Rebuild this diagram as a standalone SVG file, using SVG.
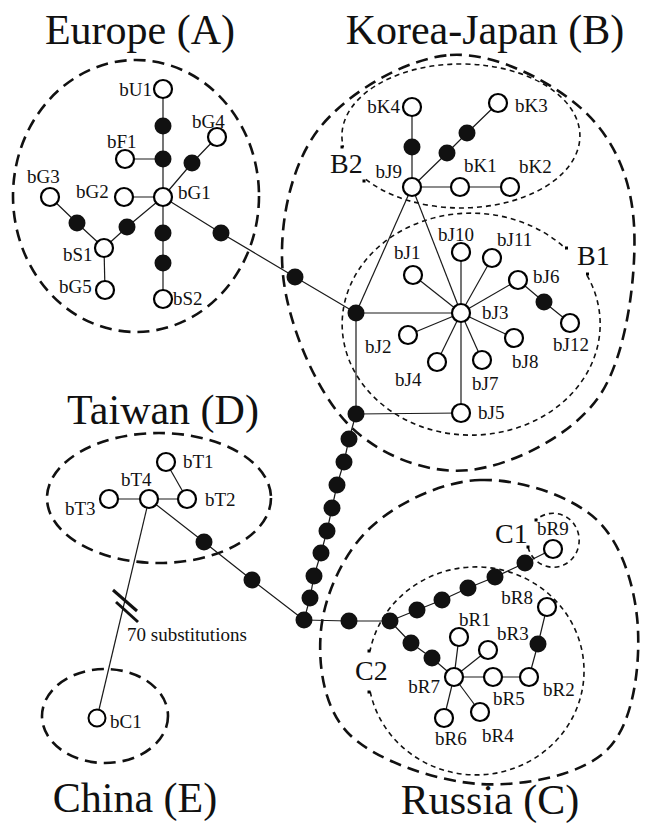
<svg xmlns="http://www.w3.org/2000/svg" width="646" height="825" viewBox="0 0 646 825">
<style>
.e{stroke:#1a1a1a;stroke-width:1.2;fill:none}
.h{fill:#fff;stroke:#000;stroke-width:2.2}
.m{fill:#111;stroke:none}
.lab{font-family:"Liberation Serif","Times New Roman",serif;font-size:19px;fill:#111}
.ttl{font-family:"Liberation Serif","Times New Roman",serif;font-size:42px;fill:#111}
.sl{font-family:"Liberation Serif","Times New Roman",serif;font-size:28px;fill:#111}
.reg{fill:none;stroke:#111;stroke-width:2.6;stroke-dasharray:12 7}
.sub{fill:none;stroke:#111;stroke-width:1.6;stroke-dasharray:5 4}
.bar{stroke:#111;stroke-width:3}
</style>
<rect width="646" height="825" fill="#fff"/>

<g id="regions">
  <g id="region-A">
    <ellipse class="reg" cx="136" cy="196" rx="123" ry="136"/>
    <text class="ttl" x="140" y="44" text-anchor="middle">Europe (A)</text>
  </g>
  <g id="region-B">
    <path class="reg" d="M450 55 C494.2 51.7 552.3 81.7 583 110 C613.7 138.3 631.2 177.5 634 225 C636.8 272.5 627.3 354.2 600 395 C572.7 435.8 512.2 465.3 470 470 C427.8 474.7 378.2 455.5 347 423 C315.8 390.5 287.8 323.8 283 275 C278.2 226.2 290.2 166.7 318 130 C345.8 93.3 405.8 58.3 450 55 Z"/>
    <text class="ttl" x="485" y="44" text-anchor="middle">Korea-Japan (B)</text>
  </g>
  <g id="region-B2">
    <path class="sub" d="M365.9 179.3 A119 72 0 1 0 343.4 147.3"/>
    <rect x="340.5" y="145.5" width="3" height="3"/>
    <rect x="362.5" y="179.5" width="3" height="3"/>
    <text class="sl" x="330" y="173">B2</text>
  </g>
  <g id="region-B1">
    <path class="sub" d="M587 275.3 A129 111 0 1 1 566 248.9"/>
    <rect x="565" y="246.5" width="3" height="3"/>
    <rect x="586" y="272.5" width="3" height="3"/>
    <text class="sl" x="577" y="265">B1</text>
  </g>
  <g id="region-C">
    <path class="reg" d="M480 480 C517.8 478.7 570.7 495 597 520 C623.3 545 636.3 591.7 638 630 C639.7 668.3 633.3 724.3 607 750 C580.7 775.7 522.8 786.5 480 784 C437.2 781.5 376.5 760.7 350 735 C323.5 709.3 317.7 664.5 321 630 C324.3 595.5 343.5 553 370 528 C396.5 503 442.2 481.3 480 480 Z"/>
    <text class="ttl" x="490" y="814" text-anchor="middle">Russia (C)</text>
  </g>
  <g id="region-C1">
    <path class="sub" d="M528 547 A26 27 0 1 0 536 520"/>
    <rect x="526.5" y="545.5" width="3" height="3"/>
    <rect x="534.5" y="518.5" width="3" height="3"/>
    <text class="sl" x="495" y="543">C1</text>
  </g>
  <g id="region-C2">
    <path class="sub" d="M370.2 691.7 A108 104 0 1 0 370 651.1"/>
    <rect x="367.5" y="649.5" width="3" height="3"/>
    <rect x="367.5" y="690.5" width="3" height="3"/>
    <text class="sl" x="355" y="680">C2</text>
  </g>
  <g id="region-D">
    <ellipse class="reg" cx="159" cy="498" rx="112" ry="65"/>
    <text class="ttl" x="163" y="424" text-anchor="middle">Taiwan (D)</text>
  </g>
  <g id="region-E">
    <ellipse class="reg" cx="105" cy="716" rx="63" ry="47"/>
    <text class="ttl" x="135" y="812" text-anchor="middle">China (E)</text>
  </g>
</g>

<g id="connectors">
  <polyline class="e" points="163,89 163,126 163,159 163,197 163,233 163,263 163,299"/>
  <line class="e" x1="125" y1="159" x2="163" y2="159"/>
  <line class="e" x1="124" y1="197" x2="163" y2="197"/>
  <polyline class="e" points="163,197 192,163 217,137"/>
  <polyline class="e" points="50,197 77,223 104,248"/>
  <polyline class="e" points="104,248 127,227 163,197"/>
  <line class="e" x1="104" y1="248" x2="105" y2="290"/>
  <polyline class="e" points="163,197 221,233 295,277 356,313"/>

  <polyline class="e" points="412,107 412,147 412,187"/>
  <polyline class="e" points="412,187 447,153 467,133 498,103"/>
  <polyline class="e" points="412,187 460,187 510,187"/>
  <line class="e" x1="412" y1="187" x2="356" y2="313"/>
  <line class="e" x1="412" y1="187" x2="461" y2="313"/>
  <line class="e" x1="356" y1="313" x2="461" y2="313"/>
  <line class="e" x1="356" y1="313" x2="356" y2="414"/>
  <line class="e" x1="356" y1="414" x2="461" y2="413"/>
  <line class="e" x1="461" y1="313" x2="461" y2="413"/>
  <line class="e" x1="461" y1="313" x2="461" y2="252"/>
  <line class="e" x1="461" y1="313" x2="492" y2="258"/>
  <line class="e" x1="461" y1="313" x2="413" y2="275"/>
  <line class="e" x1="461" y1="313" x2="518" y2="280"/>
  <line class="e" x1="461" y1="313" x2="408" y2="335"/>
  <line class="e" x1="461" y1="313" x2="437" y2="362"/>
  <line class="e" x1="461" y1="313" x2="482" y2="360"/>
  <line class="e" x1="461" y1="313" x2="514" y2="338"/>
  <polyline class="e" points="518,280 544,302 570,323"/>

  <polyline class="e" points="356,414 349,439 344,462 337,485 332,508 327,531 321,553 314,576 310,598 304,620"/>

  <polyline class="e" points="109,499 149,499 187,499"/>
  <line class="e" x1="166" y1="462" x2="187" y2="499"/>
  <polyline class="e" points="149,499 204,542 252,580 304,620"/>
  <line class="e" x1="149" y1="499" x2="97" y2="718"/>
  <line class="bar" x1="113" y1="590" x2="137" y2="611"/>
  <line class="bar" x1="116" y1="602" x2="138" y2="622"/>

  <polyline class="e" points="304,620 349,621 390,621"/>
  <polyline class="e" points="390,621 417,610 442,600 468,588 495,577 525,563 553,549"/>
  <polyline class="e" points="390,621 411,643 432,658 454,677"/>
  <line class="e" x1="454" y1="677" x2="459" y2="637"/>
  <line class="e" x1="454" y1="677" x2="488" y2="650"/>
  <line class="e" x1="454" y1="677" x2="480" y2="712"/>
  <line class="e" x1="454" y1="677" x2="444" y2="718"/>
  <polyline class="e" points="454,677 493,677 529,677"/>
  <polyline class="e" points="529,677 538,644 547,607"/>
</g>

<g id="nodes">
  <g id="bU1"><circle class="h" cx="163" cy="89" r="9"/><text class="lab" x="152" y="96" text-anchor="end">bU1</text></g>
  <g id="mA1"><circle class="m" cx="163" cy="126" r="8.5"/></g>
  <g id="mA2"><circle class="m" cx="163" cy="159" r="8.5"/></g>
  <g id="bF1"><circle class="h" cx="125" cy="159" r="9"/><text class="lab" x="107" y="148">bF1</text></g>
  <g id="bG1"><circle class="h" cx="163" cy="197" r="9"/><text class="lab" x="178" y="199">bG1</text></g>
  <g id="bG2"><circle class="h" cx="124" cy="197" r="9"/><text class="lab" x="76" y="198">bG2</text></g>
  <g id="mA3"><circle class="m" cx="192" cy="163" r="8.5"/></g>
  <g id="bG4"><circle class="h" cx="217" cy="137" r="9"/><text class="lab" x="192" y="128">bG4</text></g>
  <g id="bG3"><circle class="h" cx="50" cy="197" r="9"/><text class="lab" x="27" y="183">bG3</text></g>
  <g id="mA4"><circle class="m" cx="77" cy="223" r="8.5"/></g>
  <g id="mA5"><circle class="m" cx="127" cy="227" r="8.5"/></g>
  <g id="bS1"><circle class="h" cx="104" cy="248" r="9"/><text class="lab" x="63" y="261">bS1</text></g>
  <g id="bG5"><circle class="h" cx="105" cy="290" r="9"/><text class="lab" x="59" y="293">bG5</text></g>
  <g id="mA6"><circle class="m" cx="163" cy="233" r="8.5"/></g>
  <g id="mA7"><circle class="m" cx="163" cy="263" r="8.5"/></g>
  <g id="bS2"><circle class="h" cx="163" cy="299" r="9"/><text class="lab" x="173" y="305">bS2</text></g>
  <g id="mAB1"><circle class="m" cx="221" cy="233" r="8.5"/></g>
  <g id="mAB2"><circle class="m" cx="295" cy="277" r="8.5"/></g>

  <g id="bK4"><circle class="h" cx="412" cy="107" r="9"/><text class="lab" x="400" y="113" text-anchor="end">bK4</text></g>
  <g id="mB1"><circle class="m" cx="412" cy="147" r="8.5"/></g>
  <g id="bJ9"><circle class="h" cx="412" cy="187" r="9"/><text class="lab" x="402" y="178" text-anchor="end">bJ9</text></g>
  <g id="mB2"><circle class="m" cx="447" cy="153" r="8.5"/></g>
  <g id="mB3"><circle class="m" cx="467" cy="133" r="8.5"/></g>
  <g id="bK3"><circle class="h" cx="498" cy="103" r="9"/><text class="lab" x="515" y="112">bK3</text></g>
  <g id="bK1"><circle class="h" cx="460" cy="187" r="9"/><text class="lab" x="464" y="172">bK1</text></g>
  <g id="bK2"><circle class="h" cx="510" cy="187" r="9"/><text class="lab" x="519" y="173">bK2</text></g>
  <g id="mB4"><circle class="m" cx="356" cy="313" r="8.5"/></g>
  <g id="mB5"><circle class="m" cx="356" cy="414" r="8.5"/></g>
  <g id="bJ3"><circle class="h" cx="461" cy="313" r="9"/><text class="lab" x="482" y="319">bJ3</text></g>
  <g id="bJ10"><circle class="h" cx="461" cy="252" r="9"/><text class="lab" x="438" y="241">bJ10</text></g>
  <g id="bJ11"><circle class="h" cx="492" cy="258" r="9"/><text class="lab" x="497" y="246">bJ11</text></g>
  <g id="bJ1"><circle class="h" cx="413" cy="275" r="9"/><text class="lab" x="394" y="259">bJ1</text></g>
  <g id="bJ6"><circle class="h" cx="518" cy="280" r="9"/><text class="lab" x="533" y="283">bJ6</text></g>
  <g id="mB6"><circle class="m" cx="544" cy="302" r="8.5"/></g>
  <g id="bJ12"><circle class="h" cx="570" cy="323" r="9"/><text class="lab" x="553" y="351">bJ12</text></g>
  <g id="bJ2"><circle class="h" cx="408" cy="335" r="9"/><text class="lab" x="365" y="353">bJ2</text></g>
  <g id="bJ4"><circle class="h" cx="437" cy="362" r="9"/><text class="lab" x="395" y="386">bJ4</text></g>
  <g id="bJ7"><circle class="h" cx="482" cy="360" r="9"/><text class="lab" x="472" y="390">bJ7</text></g>
  <g id="bJ8"><circle class="h" cx="514" cy="338" r="9"/><text class="lab" x="512" y="368">bJ8</text></g>
  <g id="bJ5"><circle class="h" cx="461" cy="413" r="9"/><text class="lab" x="478" y="419">bJ5</text></g>

  <g id="mC1"><circle class="m" cx="349" cy="439" r="8.5"/></g>
  <g id="mC2"><circle class="m" cx="344" cy="462" r="8.5"/></g>
  <g id="mC3"><circle class="m" cx="337" cy="485" r="8.5"/></g>
  <g id="mC4"><circle class="m" cx="332" cy="508" r="8.5"/></g>
  <g id="mC5"><circle class="m" cx="327" cy="531" r="8.5"/></g>
  <g id="mC6"><circle class="m" cx="321" cy="553" r="8.5"/></g>
  <g id="mC7"><circle class="m" cx="314" cy="576" r="8.5"/></g>
  <g id="mC8"><circle class="m" cx="310" cy="598" r="8.5"/></g>
  <g id="mJ"><circle class="m" cx="304" cy="620" r="8.5"/></g>

  <g id="bT1"><circle class="h" cx="166" cy="462" r="9"/><text class="lab" x="183" y="468">bT1</text></g>
  <g id="bT4"><circle class="h" cx="149" cy="499" r="9"/><text class="lab" x="121" y="486">bT4</text></g>
  <g id="bT3"><circle class="h" cx="109" cy="499" r="9"/><text class="lab" x="65" y="515">bT3</text></g>
  <g id="bT2"><circle class="h" cx="187" cy="499" r="9"/><text class="lab" x="205" y="506">bT2</text></g>
  <g id="mD1"><circle class="m" cx="204" cy="542" r="8.5"/></g>
  <g id="mD2"><circle class="m" cx="252" cy="580" r="8.5"/></g>
  <g id="break"><text class="lab" x="127" y="641">70 substitutions</text></g>
  <g id="bC1"><circle class="h" cx="97" cy="718" r="8.5" style="stroke-width:2"/><text class="lab" x="110" y="728">bC1</text></g>

  <g id="mR1"><circle class="m" cx="349" cy="621" r="8.5"/></g>
  <g id="mR2"><circle class="m" cx="390" cy="621" r="8.5"/></g>
  <g id="mR3"><circle class="m" cx="417" cy="610" r="8.5"/></g>
  <g id="mR4"><circle class="m" cx="442" cy="600" r="8.5"/></g>
  <g id="mR5"><circle class="m" cx="468" cy="588" r="8.5"/></g>
  <g id="mR6"><circle class="m" cx="495" cy="577" r="8.5"/></g>
  <g id="mR7"><circle class="m" cx="525" cy="563" r="8.5"/></g>
  <g id="bR9"><circle class="h" cx="553" cy="549" r="9"/><text class="lab" x="537" y="535">bR9</text></g>
  <g id="mR8"><circle class="m" cx="411" cy="643" r="8.5"/></g>
  <g id="mR9"><circle class="m" cx="432" cy="658" r="8.5"/></g>
  <g id="bR7"><circle class="h" cx="454" cy="677" r="9"/><text class="lab" x="440" y="693" text-anchor="end">bR7</text></g>
  <g id="bR1"><circle class="h" cx="459" cy="637" r="9"/><text class="lab" x="459" y="626">bR1</text></g>
  <g id="bR3"><circle class="h" cx="488" cy="650" r="9"/><text class="lab" x="497" y="640">bR3</text></g>
  <g id="bR5"><circle class="h" cx="493" cy="677" r="9"/><text class="lab" x="493" y="705">bR5</text></g>
  <g id="bR2"><circle class="h" cx="529" cy="677" r="9"/><text class="lab" x="543" y="696">bR2</text></g>
  <g id="bR4"><circle class="h" cx="480" cy="712" r="9"/><text class="lab" x="482" y="742">bR4</text></g>
  <g id="bR6"><circle class="h" cx="444" cy="718" r="9"/><text class="lab" x="435" y="745">bR6</text></g>
  <g id="mR10"><circle class="m" cx="538" cy="644" r="8.5"/></g>
  <g id="bR8"><circle class="h" cx="547" cy="607" r="9"/><text class="lab" x="533" y="604" text-anchor="end">bR8</text></g>
</g>
</svg>
